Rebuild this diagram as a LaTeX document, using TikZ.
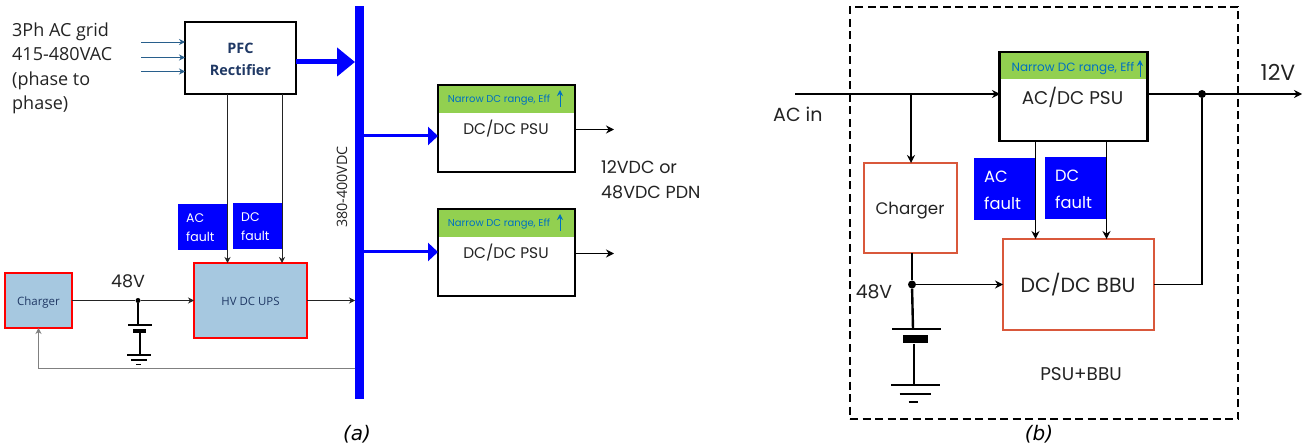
\documentclass[tikz,border=0pt]{standalone}
\usepackage{fontspec}
\setmainfont{Open Sans}
\newfontfamily\geofont{Poppins}
\newfontfamily\capfont{DejaVu Sans}
\usepackage{amsmath}
\usetikzlibrary{arrows.meta,calc,positioning}
\definecolor{busblue}{RGB}{0,0,255}
\definecolor{leafgreen}{RGB}{146,208,80}
\definecolor{upsblue}{RGB}{166,200,224}
\definecolor{linkblue}{RGB}{0,112,192}
\definecolor{inblue}{RGB}{40,95,140}
\definecolor{titleblue}{RGB}{31,56,100}
\definecolor{boxorange}{RGB}{217,88,59}
\definecolor{inkgray}{RGB}{35,35,35}

\begin{document}
\begin{tikzpicture}[x=1pt,y=-1pt,
  box/.style={rectangle,draw=black,outer sep=0pt,inner sep=0pt},
  psubox/.style={box,line width=2.2pt},
  redbox/.style={box,draw=red,fill=upsblue,line width=2pt},
  orangebox/.style={box,draw=boxorange,line width=1.5pt},
  headband/.style={rectangle,fill=leafgreen,outer sep=0pt,inner sep=0pt},
  faultbox/.style={rectangle,fill=busblue,outer sep=0pt,inner sep=0pt},
  faulttext/.style={white,anchor=west,inner sep=0pt,font=\geofont\fontsize{#1}{#1}\selectfont},
  geolabel/.style={text=inkgray,inner sep=0pt,font=\geofont\fontsize{#1}{#1}\selectfont},
  narrowtext/.style={text=linkblue,inner sep=0pt,font=\geofont\fontsize{#1}{#1}\selectfont},
  dotnode/.style={circle,fill=black,inner sep=0pt,minimum size=#1},
  thinarrow/.style={-{Stealth[length=6pt,width=6pt]},line width=0.8pt,draw=inkgray},
  midarrow/.style={-{Stealth[length=8pt,width=8pt]},line width=1.4pt,draw=black},
  busarrow/.style={-{Triangle[length=10pt,width=18pt]},line width=3pt,draw=busblue},
  wire/.style={line width=0.9pt,draw=gray}]

 \useasboundingbox (0,0) rectangle (1304,446);

 % (a) HV DC distribution
 \node[rectangle,fill=busblue,minimum width=9pt,minimum height=393pt,outer sep=0pt,inner sep=0pt] (bus) at (359.5,202.5) {};
 \node[rotate=90,inner sep=0pt,text=inkgray,font=\fontsize{14.3}{15}\selectfont] (buslabel) at (342,187) {380-400VDC};

 \node[psubox,minimum width=111pt,minimum height=72pt] (pfc) at (240.5,58) {};
 \node[inner sep=0pt,text=titleblue,align=center,font=\bfseries\fontsize{14.4}{22}\selectfont] (pfclabel) at (240.5,59) {PFC\\Rectifier};
 \node[anchor=north west,inner sep=0pt,text=inkgray,align=left,font=\fontsize{18}{24.4}\selectfont] (gridlabel) at (12,22.5) {3Ph AC grid\\415-480VAC\\(phase to\\phase)};

 \foreach \y/\n in {42/ina,57.5/inb,71.5/inc}{
   \coordinate (\n) at (141,\y);
   \draw[-{Stealth[length=6pt,width=6pt]},line width=0.9pt,draw=inblue] (\n) -- (\n -| pfc.west);
 }

 \coordinate (pfcout) at (296,62);
 \draw[-{Triangle[length=18pt,width=28pt]},line width=5pt,draw=busblue] (pfcout) -- (pfcout -| bus.west);

 \foreach \n/\y/\a in {psua/128.5/136,psub/252.5/252}{
   \node[headband,minimum width=136pt,minimum height=28pt] (\n head) at (506.5,\y-29.5) {};
   \node[psubox,minimum width=137pt,minimum height=87pt] (\n) at (506.5,\y) {};
   \node[narrowtext=10] (\n note) at (499,\y-28.5) {Narrow DC range, Eff};
   \coordinate (\n up) at (560,\y-21.5);
   \draw[-{Stealth[length=6pt,width=6pt]},line width=1pt,draw=linkblue] (\n up) -- ++(0,-17);
   \node[geolabel=15.4] (\n label) at (506,\y+0.5) {DC/DC PSU};
   \coordinate (\n in) at (364,\a);
   \draw[busarrow] (\n in) -- (\n in -| \n.west);
   \coordinate (\n out) at (575,\y+1);
   \draw[midarrow,line width=1.8pt] (\n out) -- ++(39,0);
 }
 \node[geolabel=17.5,anchor=west] (pdna) at (601,167) {12VDC or};
 \node[geolabel=17.5,anchor=west] (pdnb) at (601,192) {48VDC PDN};

 \node[redbox,minimum width=113pt,minimum height=75pt] (ups) at (250.5,300.5) {};
 \node[inner sep=0pt,text=titleblue,font=\fontsize{11.4}{12}\selectfont] (upslabel) at (250.5,301) {HV DC UPS};
 \node[redbox,minimum width=67pt,minimum height=55pt] (chga) at (38.5,300.5) {};
 \node[inner sep=0pt,text=titleblue,font=\fontsize{11.5}{12}\selectfont] (chgalabel) at (38.5,302.5) {Charger};

 \node[faultbox,minimum width=50pt,minimum height=46pt] (acfa) at (203,227) {};
 \node[faultbox,minimum width=50pt,minimum height=46pt] (dcfa) at (258,226) {};
 \node[faulttext=12.5] (acfatop) at (186,218) {AC};
 \node[faulttext=12.5] (acfabot) at (186,237) {fault};
 \node[faulttext=12.5] (dcfatop) at (241,217) {DC};
 \node[faulttext=12.5] (dcfabot) at (241,236) {fault};

 \coordinate (dropa) at (227.5,94);
 \coordinate (dropb) at (282,94);
 \draw[thinarrow] (dropa) -- (dropa |- ups.north);
 \draw[thinarrow] (dropb) -- (dropb |- ups.north);

 \node[dotnode=5pt] (joina) at (138,300.5) {};
 \node[geolabel=17.5] (vfa) at (128,281) {48V};
 \draw[line width=0.8pt,draw=inkgray] (chga.east) -- (joina);
 \draw[thinarrow] (joina) -- (ups.west);
 \draw[thinarrow] (ups.east) -- (ups.east -| bus.west);

 \coordinate (feed) at (355,368);
 \draw[wire,-{Stealth[length=6pt,width=6pt]}] (feed) -| (chga.south);

 \coordinate (bata) at (128,325);
 \draw[line width=1.8pt] (joina) -- (joina |- bata);
 \draw[line width=1.6pt] (bata) -- ++(24,0);
 \draw[line width=3.5pt] (133,331) -- ++(13,0);
 \draw[line width=1.8pt] (140,333) -- ++(0,22);
 \draw[line width=1.6pt] (127,355) -- ++(24,0);
 \draw[line width=1.6pt] (131,360) -- ++(16,0);
 \draw[line width=1.6pt] (136,364.5) -- ++(5,0);

 \node[inner sep=0pt,font=\capfont\itshape\fontsize{20}{21}\selectfont] (capa) at (357,434) {(a)};

 % (b) PSU with BBU
 \node[rectangle,draw=black,dash pattern=on 8pt off 4.5pt,line width=1.4pt,minimum width=388pt,minimum height=412pt,outer sep=0pt,inner sep=0pt] (frame) at (1044,213) {};

 \node[headband,minimum width=147pt,minimum height=27pt] (psuhead) at (1073.5,65.5) {};
 \node[psubox,line width=2.8pt,minimum width=148pt,minimum height=89pt] (psu) at (1073.5,96.5) {};
 \node[narrowtext=12] (psunote) at (1073,68.5) {Narrow DC range, Eff};
 \coordinate (psuup) at (1140,77);
 \draw[-{Stealth[length=6pt,width=6pt]},line width=1pt,draw=linkblue] (psuup) -- ++(0,-17);
 \node[geolabel=18.4] (psulabel) at (1072.5,97) {AC/DC PSU};

 \coordinate (acin) at (795,94);
 \coordinate (acpsu) at (1000,94);
 \coordinate (acdrop) at (911,94);
 \node[geolabel=19,anchor=west] (aclabel) at (773,114) {AC in};
 \node[orangebox,minimum width=93pt,minimum height=90pt] (chgb) at (910.5,208) {};
 \node[geolabel=16.7] (chgblabel) at (910,211) {Charger};
 \draw[midarrow] (acin) -- (acpsu);
 \draw[midarrow] (acdrop) -- (acdrop |- chgb.north);

 \node[orangebox,minimum width=151pt,minimum height=91pt] (bbu) at (1078.5,284.5) {};
 \node[geolabel=20.5] (bbulabel) at (1078,285) {DC/DC BBU};

 \node[faultbox,minimum width=61pt,minimum height=62pt] (acfb) at (1004.5,189) {};
 \node[faultbox,minimum width=61.5pt,minimum height=62pt] (dcfb) at (1075.75,188) {};
 \node[faulttext=16.3] (acfbtop) at (984,177) {AC};
 \node[faulttext=16.3] (acfbbot) at (984,203) {fault};
 \node[faulttext=16.3] (dcfbtop) at (1055,176) {DC};
 \node[faulttext=16.3] (dcfbbot) at (1055,202) {fault};

 \coordinate (dropc) at (1035.5,141);
 \coordinate (dropd) at (1106.5,141);
 \draw[midarrow] (dropc) -- (dropc |- bbu.north);
 \draw[midarrow] (dropd) -- (dropd |- bbu.north);

 \node[dotnode=8pt] (joinb) at (912,284.5) {};
 \node[dotnode=8pt] (joinc) at (1202,94) {};
 \coordinate (psuout) at (1147.5,94);
 \coordinate (vout) at (1302,94);
 \draw[midarrow] (psuout) -- (vout);
 \draw[line width=1.4pt] (bbu.east) -| (joinc);
 \draw[line width=1.4pt] (chgb.south -| joinb) -- (joinb);
 \draw[midarrow] (joinb) -- (bbu.west);
 \node[geolabel=22] (vfb) at (1278,72) {12V};
 \node[geolabel=18.8] (vfc) at (874,292) {48V};
 \node[geolabel=18.4] (packlabel) at (1081,374) {PSU+BBU};

 \draw[line width=2.4pt] (joinb) -- (913,329);
 \draw[line width=2.2pt] (892,329) -- ++(48.5,0);
 \draw[line width=8pt] (903,339.5) -- ++(25,0);
 \draw[line width=2.2pt] (914,344) -- ++(0,41);
 \draw[line width=2.2pt] (891,385) -- ++(49,0);
 \draw[line width=2.2pt] (899.5,394) -- ++(31.5,0);
 \draw[line width=2.2pt] (908.5,402) -- ++(9.5,0);

 \node[inner sep=0pt,font=\capfont\itshape\fontsize{20}{21}\selectfont] (capb) at (1039,434) {(b)};
\end{tikzpicture}
\end{document}
